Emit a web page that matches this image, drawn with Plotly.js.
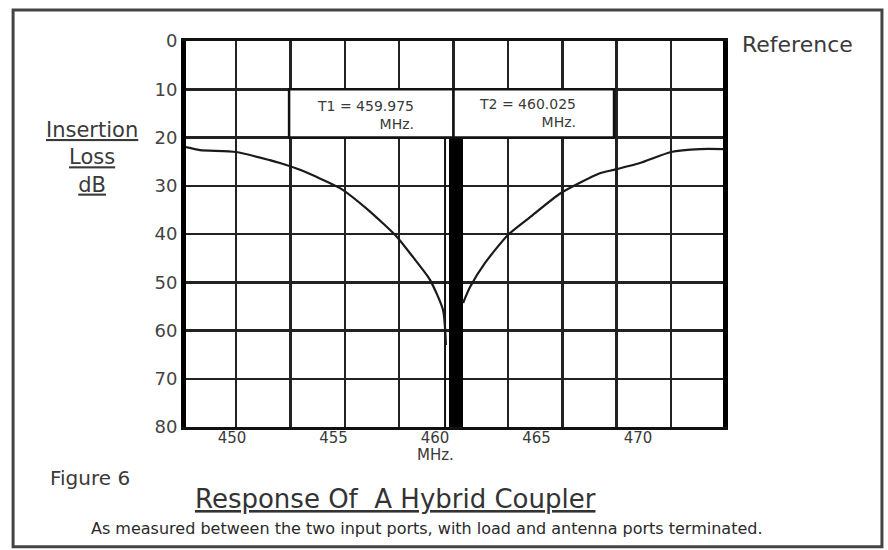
<!DOCTYPE html>
<html>
<head>
<meta charset="utf-8">
<script src="https://cdn.plot.ly/plotly-3.0.1.min.js"></script>
<style>
  html, body { margin: 0; padding: 0; background: #fff; }
  #chart { width: 888px; height: 550px; }
</style>
</head>
<body>
<div id="chart"></div>
<script>
// ---- data ----
const freqLeft  = [447.70, 448.34, 450.00, 451.56, 452.02, 452.94, 454.78, 456.07, 457.40, 458.14, 458.92, 459.52, 459.65];
const lossLeft  = [22.0, 22.6, 23.0, 24.7, 25.3, 26.7, 30.5, 35.0, 40.6, 44.8, 49.5, 55.8, 63.0];
const freqRight = [460.44, 460.76, 461.45, 462.50, 463.52, 464.94, 466.73, 467.38, 468.57, 470.00, 471.33, 472.39];
const lossRight = [54.3, 51.0, 46.0, 40.2, 36.5, 31.5, 27.4, 26.7, 25.3, 23.0, 22.4, 22.4];

const bandCenter = [460.11];
const bandTop = [20];
const bandBottom = [80];
const markerLineX = [459.61, 459.61];
const markerLineY = [20, 80];

const markerLabels = ["T1 = 459.975", "T2 = 460.025"];
const markerUnit = "MHz.";
const boxEdges = [452.44, 460.0, 467.38];
const boxRow = [10, 20];

const xTickVals = [450, 455, 460, 465, 470];
const xTickText = ["450", "455", "460", "465", "470"];
const yTickVals = [0, 10, 20, 30, 40, 50, 60, 70, 80];
const yTickText = ["0", "10", "20", "30", "40", "50", "60", "70", "80"];

const FONT = "DejaVu Sans, Arial, sans-serif";

const traces = [
  {
    type: "bar", x: bandCenter, base: bandTop,
    y: bandBottom.map((b, i) => b - bandTop[i]),
    width: [0.64], marker: { color: "#000", line: { width: 0 } },
    xaxis: "x", yaxis: "y", hoverinfo: "skip"
  },
  {
    type: "scatter", mode: "lines", x: markerLineX, y: markerLineY,
    line: { color: "#111", width: 2 }, xaxis: "x", yaxis: "y", hoverinfo: "skip"
  },
  {
    type: "scatter", mode: "lines", x: freqLeft, y: lossLeft,
    line: { color: "#1a1a1a", width: 2.2, shape: "spline", smoothing: 0.6 },
    xaxis: "x", yaxis: "y", hoverinfo: "skip"
  },
  {
    type: "scatter", mode: "lines", x: freqRight, y: lossRight,
    line: { color: "#1a1a1a", width: 2.2, shape: "spline", smoothing: 0.6 },
    xaxis: "x", yaxis: "y", hoverinfo: "skip"
  },
  {
    type: "scatter", mode: "markers", x: [xTickVals[0]], y: [0],
    marker: { opacity: 0 }, xaxis: "x2", yaxis: "y", hoverinfo: "skip"
  }
];

const shapes = [
  { type: "rect", xref: "x", yref: "y", x0: boxEdges[0], x1: boxEdges[1], y0: boxRow[0], y1: boxRow[1],
    fillcolor: "#fff", line: { color: "#111", width: 2.5 }, layer: "above" },
  { type: "rect", xref: "x", yref: "y", x0: boxEdges[1], x1: boxEdges[2], y0: boxRow[0], y1: boxRow[1],
    fillcolor: "#fff", line: { color: "#111", width: 2.5 }, layer: "above" },
  { type: "rect", xref: "paper", yref: "paper", x0: -0.322, x1: 1.296, y0: -0.310, y1: 1.080,
    fillcolor: "rgba(0,0,0,0)", line: { color: "#444", width: 3 }, layer: "below" }
];

const C = { xanchor: "center", yanchor: "middle", showarrow: false };
const annotations = [
  Object.assign({}, C, { xref: "x", yref: "y", x: 455.95, y: 15.4, text: markerLabels[0] + "<br>" + markerUnit,
    align: "right", font: { family: FONT, size: 14, color: "#3a3a3a" } }),
  Object.assign({}, C, { xref: "x", yref: "y", x: 463.4, y: 15.0, text: markerLabels[1] + "<br>" + markerUnit,
    align: "right", font: { family: FONT, size: 14, color: "#3a3a3a" } }),
  Object.assign({}, C, { xref: "x2", yref: "paper", x: 460, y: -0.072, text: "MHz.",
    font: { family: FONT, size: 15, color: "#3a3a3a" } }),
  Object.assign({}, C, { xref: "paper", yref: "paper", x: 1.032, y: 0.990, xanchor: "left", text: "Reference",
    font: { family: FONT, size: 22, color: "#3a3a3a" } }),
  Object.assign({}, C, { xref: "paper", yref: "paper", x: -0.175, y: 0.697,
    text: "<u>Insertion</u><br><u>Loss</u><br><u>dB</u>",
    align: "center", font: { family: FONT, size: 21, color: "#3a3a3a" } }),
  Object.assign({}, C, { xref: "paper", yref: "paper", x: -0.257, y: -0.132, xanchor: "left", text: "Figure 6",
    font: { family: FONT, size: 20, color: "#3a3a3a" } }),
  Object.assign({}, C, { xref: "paper", yref: "paper", x: 0.3895, y: -0.187, text: "<u>Response Of  A Hybrid Coupler</u>",
    font: { family: FONT, size: 26, color: "#333" } }),
  Object.assign({}, C, { xref: "paper", yref: "paper", x: 0.4495, y: -0.262,
    text: "As measured between the two input ports, with load and antenna ports terminated.",
    font: { family: FONT, size: 16, color: "#2a2a2a" } })
];

const layout = {
  width: 888, height: 550,
  margin: { l: 186, r: 165, t: 41, b: 123, pad: 0 },
  paper_bgcolor: "#fff", plot_bgcolor: "#fff",
  showlegend: false,
  xaxis: {
    range: [447.70, 472.39], tick0: 450, dtick: 2.5, showticklabels: false, ticks: "",
    showgrid: true, gridcolor: "#222", gridwidth: 2.5, zeroline: false,
    showline: true, linecolor: "#111", linewidth: 3, mirror: true, fixedrange: true
  },
  xaxis2: {
    overlaying: "x", anchor: "y", side: "bottom", range: [447.73, 474.19],
    tickmode: "array", tickvals: xTickVals, ticktext: xTickText, ticks: "",
    showgrid: false, zeroline: false, showline: false,
    tickfont: { family: FONT, size: 15, color: "#3a3a3a" }, fixedrange: true
  },
  yaxis: {
    range: [80, 0], tickmode: "array", tickvals: yTickVals, ticktext: yTickText, ticks: "",
    showgrid: true, gridcolor: "#222", gridwidth: 2.5, zeroline: false,
    showline: true, linecolor: "#000", linewidth: 5, mirror: true,
    tickfont: { family: FONT, size: 18, color: "#444" }, fixedrange: true
  },
  shapes: shapes,
  annotations: annotations,
  bargap: 0
};

Plotly.newPlot("chart", traces, layout, { staticPlot: true, displayModeBar: false });
</script>
</body>
</html>
